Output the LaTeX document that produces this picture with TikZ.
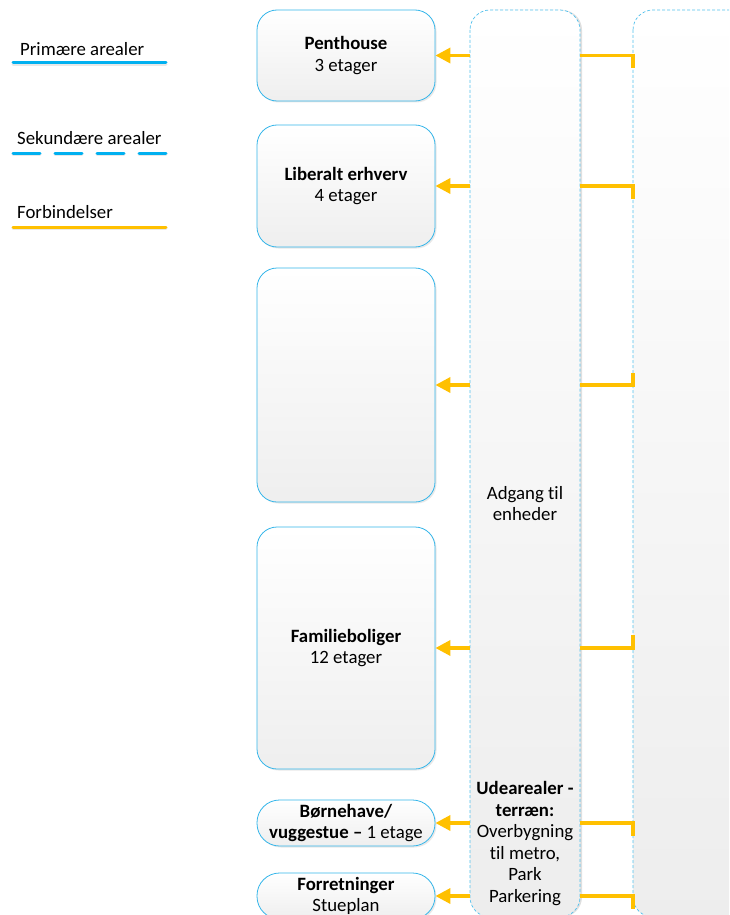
\documentclass[tikz,border=0pt]{standalone}
\usepackage{fontspec}
\setmainfont{Carlito}[Ligatures=NoCommon]
\usetikzlibrary{shadows,arrows.meta}
\definecolor{edgeblue}{HTML}{35B6EA}
\definecolor{legendblue}{HTML}{00B0F0}
\definecolor{linkorange}{HTML}{FFC000}
\begin{document}
\begin{tikzpicture}[x=1pt,y=-1pt,
  font=\fontsize{18.8}{21.5}\selectfont,
  area/.style={draw=edgeblue, line width=0.8pt, rounded corners=20pt,
    top color=white, bottom color=gray!13, align=center, inner sep=0pt,
    minimum width=178pt,
    drop shadow={opacity=0.18, shadow xshift=1.5pt, shadow yshift=-1.5pt}},
  pill/.style={area, rounded corners=22.5pt, minimum height=46pt},
  column/.style={draw=edgeblue!85, line width=0.7pt, dash pattern=on 3pt off 2pt,
    rounded corners=20pt, top color=white, bottom color=gray!14},
  coltext/.style={align=center, inner sep=0pt},
  feed/.style={draw=linkorange, line width=3.4pt,
    -{Triangle[length=15pt,width=15pt]}},
  link/.style={draw=linkorange, line width=3.4pt, miter limit=10},
  legendtext/.style={anchor=west, inner sep=0pt}]
\useasboundingbox (0,0) rectangle (729,915);
\clip (0,0) rectangle (729,915);
\fill[white] (0,0) rectangle (729,915);

% legend
\node[legendtext] (lp) at (20,49) {Primære arealer};
\node[legendtext] (ls) at (17,138) {Sekundære arealer};
\node[legendtext] (lf) at (17,212) {Forbindelser};
\coordinate (lpa) at (13,63);  \coordinate (lpb) at (166,63);
\coordinate (lsa) at (13,153); \coordinate (lsb) at (166,153);
\coordinate (lfa) at (13,227); \coordinate (lfb) at (166,227);
\begin{scope}[line width=3pt, line cap=round]
  \draw[gray!18, transform canvas={yshift=-1.5pt}] (lpa) -- (lpb);
  \draw[legendblue] (lpa) -- (lpb);
  \draw[gray!18, dash pattern=on 27pt off 15pt, transform canvas={yshift=-1.5pt}] (lsa) -- (lsb);
  \draw[legendblue, dash pattern=on 27pt off 15pt] (lsa) -- (lsb);
  \draw[gray!18, transform canvas={yshift=-1.5pt}] (lfa) -- (lfb);
  \draw[linkorange] (lfa) -- (lfb);
\end{scope}

% vertical circulation columns
\path[column, drop shadow={opacity=0.25, shadow xshift=2pt, shadow yshift=0pt}]
  (470,10) rectangle (580,917);
\node[coordinate] (c1w) at (470,450) {};
\node[coordinate] (c1e) at (580,450) {};
\path[column] (633,10) rectangle (790,917);
\node[coordinate] (c2w) at (633,450) {};

\node[coltext] (adg) at (525,503.5) {Adgang til\\enheder};
\node[coltext] (ude) at (525,843.5)
  {\textbf{Udearealer -}\\\textbf{terræn:}\\Overbygning\\til metro,\\Park\\Parkering};

% functional areas
\node[area, minimum height=91pt]  (pent) at (346,55.5) {\textbf{Penthouse}\\3 etager};
\node[area, minimum height=122pt] (lib)  at (346,186)  {\textbf{Liberalt erhverv}\\4 etager};
\node[area, minimum height=234pt] (mid)  at (346,385)  {};
\node[area, minimum height=242pt] (fam)  at (346,648)  {\textbf{Familieboliger}\\12 etager};
\node[pill] (boern) at (346,823) {\textbf{Børnehave/}\\\textbf{vuggestue –} 1 etage};
\node[pill] (forr)  at (346,896) {\textbf{Forretninger}\\Stueplan};

% connections
\foreach \n/\t in {pent/13, lib/13, mid/-12, fam/-13, boern/13, forr/13}{
  \draw[feed] (c1w |- \n.east) -- (\n.east);
  \draw[link] (c1e |- \n.east) -- (c2w |- \n.east) -- ++(0,\t);
}
\end{tikzpicture}
\end{document}
